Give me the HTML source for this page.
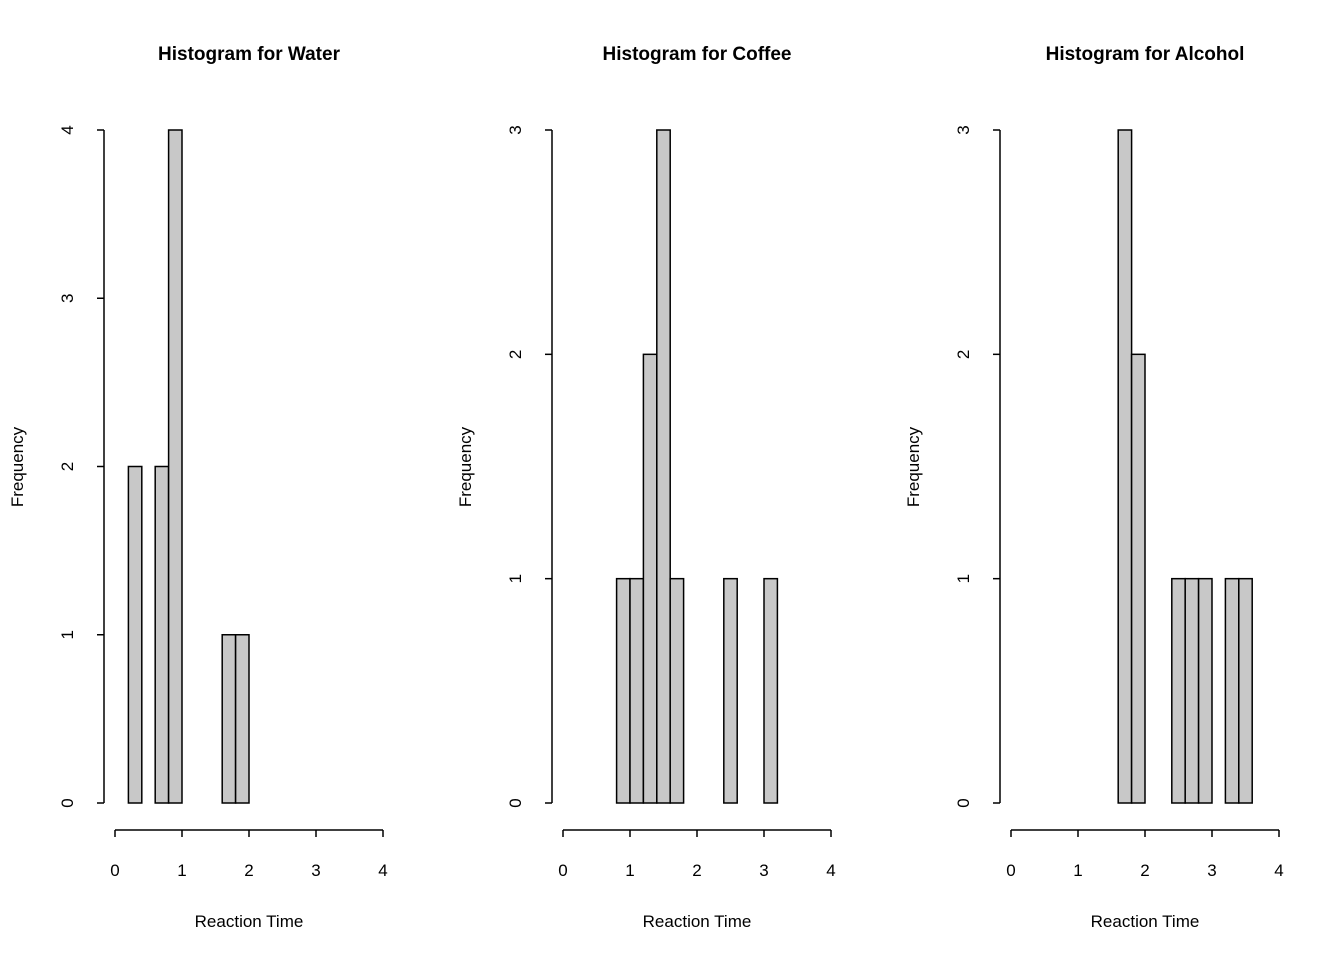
<!DOCTYPE html>
<html><head><meta charset="utf-8"><style>
body{margin:0;background:#fff;}
svg text{font-family:"Liberation Sans",Arial,sans-serif;fill:#000;}
</style></head><body>
<svg id="chart" width="1344" height="960" xmlns="http://www.w3.org/2000/svg"></svg>
<script>
const titles = ["Histogram for Water","Histogram for Coffee","Histogram for Alcohol"];
const breakStarts = [0.2, 0.0, 0.0];
const waterCounts = [2,0,2,4,0,0,0,1,1,0,0,0,0,0,0,0,0,0,0];
const coffeeCounts = [0,0,0,0,1,1,2,3,1,0,0,0,1,0,0,1,0,0,0,0];
const alcoholCounts = [0,0,0,0,0,0,0,0,3,2,0,0,1,1,1,0,1,1,0,0];
const yMaxes = [4,3,3];
const xTicks = [0,1,2,3,4];
const binWidth = 0.2;
const allCounts = [waterCounts, coffeeCounts, alcoholCounts];
const NS = "http://www.w3.org/2000/svg";
const svg = document.getElementById("chart");
function mk(tag, attrs, parent){const e=document.createElementNS(NS,tag);for(const k in attrs)e.setAttribute(k,attrs[k]);(parent||svg).appendChild(e);return e;}
const offsets=[0,448,896];
for(let p=0;p<3;p++){
  const ox=offsets[p];
  const g=mk("g",{});
  
  
  const xs=v=>115+ox+v*67;
  const ys=v=>803-v*(673/yMaxes[p]);
  const t=mk("text",{x:249+ox,y:60,"text-anchor":"middle","font-size":"19","font-weight":"bold"},g);
  t.textContent=titles[p];
  
  
  allCounts[p].forEach((c,i)=>{
    const x0=breakStarts[p]+i*binWidth;
    const r=mk("rect",{x:xs(x0),y:ys(c),width:xs(x0+binWidth)-xs(x0),height:ys(0)-ys(c),fill:"#c8c8c8",stroke:"#000","stroke-width":"1.5"},g);
    
    
  });
  // y axis
  const yax=mk("g",{},g);
  
  
  mk("line",{x1:104+ox,x2:104+ox,y1:ys(0),y2:ys(yMaxes[p]),stroke:"#000","stroke-width":"1.5"},yax);
  for(let v=0;v<=yMaxes[p];v++){
    mk("line",{x1:97+ox,x2:104+ox,y1:ys(v),y2:ys(v),stroke:"#000","stroke-width":"1.5"},yax);
    const l=mk("text",{x:0,y:0,"text-anchor":"middle","font-size":"17",transform:`translate(${73+ox},${ys(v)}) rotate(-90)`},yax);
    l.textContent=v;
    
    
  }
  const yt=mk("text",{x:0,y:0,"text-anchor":"middle","font-size":"17",transform:`translate(${23+ox},467) rotate(-90)`},g);
  yt.textContent="Frequency";
  
  
  // x axis
  const xax=mk("g",{},g);
  
  
  mk("line",{x1:xs(xTicks[0]),x2:xs(xTicks[xTicks.length-1]),y1:830,y2:830,stroke:"#000","stroke-width":"1.5"},xax);
  xTicks.forEach(v=>{
    mk("line",{x1:xs(v),x2:xs(v),y1:830,y2:837,stroke:"#000","stroke-width":"1.5"},xax);
    const l=mk("text",{x:xs(v),y:876,"text-anchor":"middle","font-size":"17"},xax);
    l.textContent=v;
    
    
  });
  const xt=mk("text",{x:249+ox,y:927,"text-anchor":"middle","font-size":"17"},g);
  xt.textContent="Reaction Time";
  
  
}
</script>
</body></html>
